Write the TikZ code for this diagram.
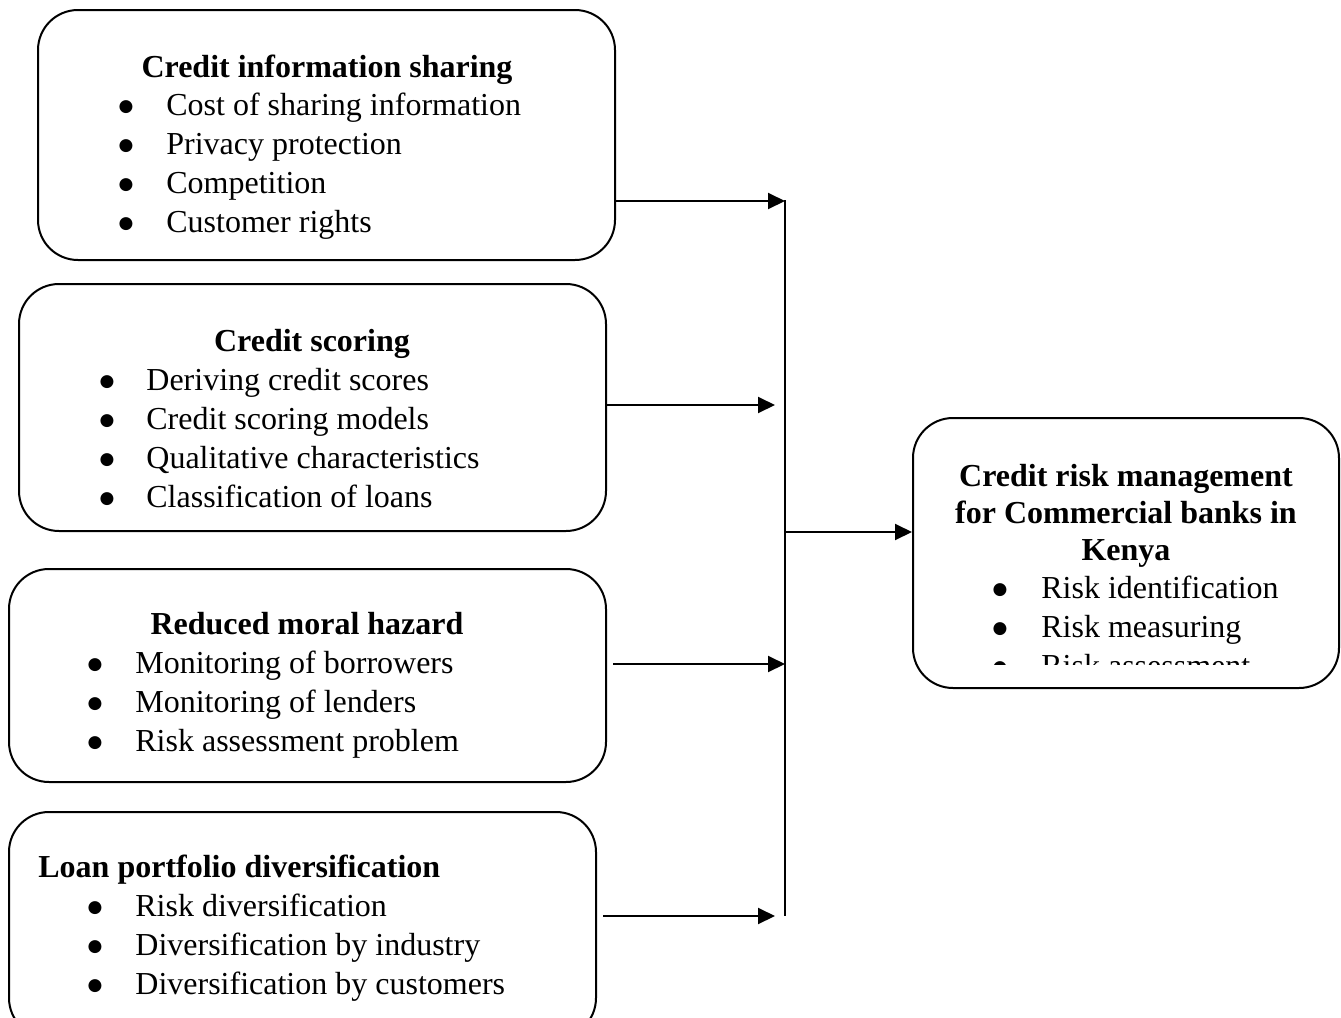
\documentclass[tikz,border=0pt]{standalone}
\usepackage{fontspec}
\setmainfont{Liberation Serif}
\newfontfamily\dejavu{DejaVu Sans}
\usetikzlibrary{arrows.meta}
\begin{document}
\begin{tikzpicture}[x=0.5pt,y=-0.5pt,
  box/.style={draw,line width=1pt,rounded corners=20pt,inner sep=0pt},
  ttl/.style={font=\fontsize{16}{19}\selectfont\bfseries,inner sep=0pt,anchor=base},
  ttlw/.style={font=\fontsize{16}{19}\selectfont\bfseries,inner sep=0pt,anchor=base west},
  itm/.style={font=\fontsize{16}{19}\selectfont,inner sep=0pt,anchor=base west},
  bul/.style={font=\dejavu\fontsize{8.5}{10}\selectfont,inner sep=0pt,anchor=center,yshift=4pt},
  conn/.style={line width=1pt},
  arr/.style={line width=1pt,-{Triangle[length=8.5pt,width=8pt]}}]
\useasboundingbox (0,0) rectangle (1341,1018);
% boxes
\node[box,minimum width=288.5pt,minimum height=125pt] (b1) at (326.5,135) {};
\node[box,minimum width=293.5pt,minimum height=123.5pt] (b2) at (312.5,407.5) {};
\node[box,minimum width=298.5pt,minimum height=106.5pt] (b3) at (307.5,675.5) {};
\node[box,minimum width=293.5pt,minimum height=113pt] (b4) at (302.5,925) {};
\node[box,minimum width=213pt,minimum height=135pt] (rb) at (1126,553) {};
% box 1 text
\node[ttl] (t1) at (327,77) {Credit information sharing};
\foreach \y/\t [count=\i] in {115/Cost of sharing information,154/Privacy protection,193/Competition,232/Customer rights}{
  \node[bul] (b1d\i) at (126,\y) {●};
  \node[itm] (b1t\i) at (166,\y) {\t};
}
% box 2 text
\node[ttl] (t2) at (312,351) {Credit scoring};
\foreach \y/\t [count=\i] in {390/Deriving credit scores,429/Credit scoring models,468/Qualitative characteristics,507/Classification of loans}{
  \node[bul] (b2d\i) at (107,\y) {●};
  \node[itm] (b2t\i) at (146,\y) {\t};
}
% box 3 text
\node[ttl] (t3) at (307,634) {Reduced moral hazard};
\foreach \y/\t [count=\i] in {673/Monitoring of borrowers,712/Monitoring of lenders,751/Risk assessment problem}{
  \node[bul] (b3d\i) at (95,\y) {●};
  \node[itm] (b3t\i) at (135,\y) {\t};
}
% box 4 text
\node[ttlw] (t4) at (38,877) {Loan portfolio diversification};
\foreach \y/\t [count=\i] in {916/Risk diversification,955/Diversification by industry,994/Diversification by customers}{
  \node[bul] (b4d\i) at (95,\y) {●};
  \node[itm] (b4t\i) at (135,\y) {\t};
}
% right box text
\node[ttl] (r1) at (1126,486) {Credit risk management};
\node[ttl] (r2) at (1126,523) {for Commercial banks in};
\node[ttl] (r3) at (1126,560) {Kenya};
\begin{scope}
\clip (913,418) rectangle (1339,664);
\foreach \y/\t [count=\i] in {598/Risk identification,637/Risk measuring,676/Risk assessment}{
  \node[bul] (rd\i) at (1000,\y) {●};
  \node[itm] (rt\i) at (1041,\y) {\t};
}
\end{scope}
% connectors
\coordinate (vtop) at (785,200);
\coordinate (vbot) at (785,916);
\coordinate (j1) at (785,201);
\coordinate (j2) at (775,405);
\coordinate (j3) at (785,664);
\coordinate (j4) at (775,916);
\coordinate (jm) at (785,532);
\coordinate (s3) at (613,664);
\coordinate (s4) at (603,916);
\draw[conn] (vtop) -- (vbot);
\draw[arr] (b1.east |- j1) -- (j1);
\draw[arr] (b2.east |- j2) -- (j2);
\draw[arr] (s3) -- (j3);
\draw[arr] (s4) -- (j4);
\draw[arr] (jm) -- (rb.west |- jm);
\end{tikzpicture}
\end{document}
